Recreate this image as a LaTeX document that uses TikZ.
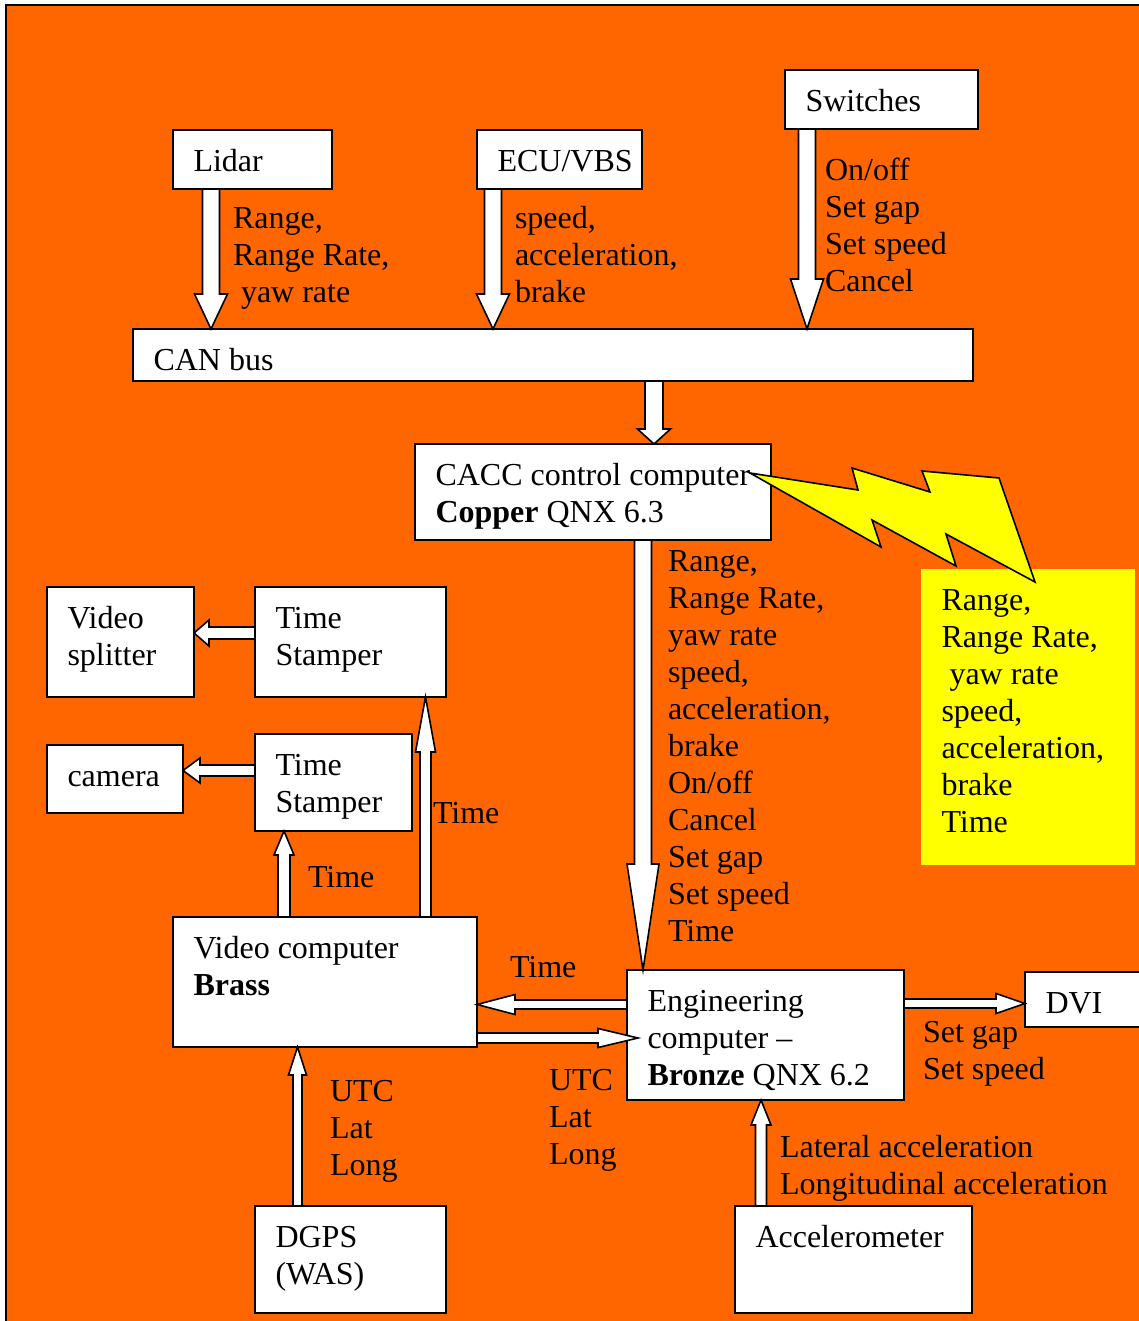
\documentclass[tikz,border=0pt]{standalone}
\usepackage{fontspec}
\setmainfont{Liberation Serif}
\usetikzlibrary{calc,fit}
\definecolor{bgorange}{HTML}{FF6600}
\definecolor{boltyellow}{HTML}{FFFF00}
\newcommand\txtlines[1]{\begin{tabular}[t]{@{}l@{}}#1\end{tabular}}
\newcommand\blockarrow[5]{%
  \path (#1) coordinate (ba-s) (#2) coordinate (ba-e) ($(ba-e)!#5!(ba-s)$) coordinate (ba-h);
  \draw[arrowbody] ($(ba-s)!#3!90:(ba-e)$) -- ($(ba-h)!#3!90:(ba-e)$) -- ($(ba-h)!#4!90:(ba-e)$) -- (ba-e) -- ($(ba-h)!#4!-90:(ba-e)$) -- ($(ba-h)!#3!-90:(ba-e)$) -- ($(ba-s)!#3!-90:(ba-e)$) -- cycle;}
\newcommand\boxtext[2]{\node[txt] (#1-t) at ([shift={(20.5,41.5)}]#1.north west) {\txtlines{#2}};}
\begin{document}
\begin{tikzpicture}[x=1pt,y=-1pt,
  every node/.style={font=\fontsize{32}{37}\selectfont, inner sep=0pt, outer sep=0pt},
  box/.style={draw=black, fill=white, line width=2pt, rectangle},
  txt/.style={anchor=base west, text=black},
  arrowbody/.style={draw=black, fill=white, line width=1.6pt, line join=miter},
  bolt/.style={draw=black, fill=boltyellow, line width=1.6pt, line join=miter}]
\useasboundingbox (0,0) rectangle (1139,1321);
\clip (0,0) rectangle (1139,1321);
\fill[white] (0,0) rectangle (1139,1321);
\fill[bgorange] (6,5) rectangle (1150,1330);
\draw[line width=2pt] (6,1330) -- (6,5) -- (1150,5);

% boxes
\node[box, fit={(173,130)(332,189)}] (lidar) {};
\node[box, fit={(477,130)(642,189)}] (ecu) {};
\node[box, fit={(785,70)(978,129)}] (switches) {};
\node[box, fit={(133,329)(973,381)}] (can) {};
\node[box, fit={(415,444)(771,540)}] (cacc) {};
\node[box, fit={(47,587)(194,697)}] (vsplit) {};
\node[box, fit={(255,587)(446,697)}] (ts1) {};
\node[box, fit={(47,745)(183,813)}] (camera) {};
\node[box, fit={(255,734)(412,831)}] (ts2) {};
\node[box, fit={(173,917)(477,1047)}] (vcomp) {};
\node[box, fit={(627,970)(904,1100)}] (eng) {};
\node[box, fit={(1025,972)(1170,1027)}] (dvi) {};
\node[box, fit={(255,1206)(446,1313)}] (dgps) {};
\node[box, fit={(735,1206)(972,1313)}] (accel) {};
\node[fill=boltyellow, draw=none, fit={(921,569)(1135,865)}] (ybox) {};

% box texts
\boxtext{lidar}{Lidar}
\boxtext{ecu}{ECU/VBS}
\boxtext{switches}{Switches}
\boxtext{can}{CAN bus}
\boxtext{cacc}{CACC control computer\\\textbf{Copper} QNX 6.3}
\boxtext{vsplit}{Video\\splitter}
\boxtext{ts1}{Time\\Stamper}
\boxtext{camera}{camera}
\boxtext{ts2}{Time\\Stamper}
\boxtext{vcomp}{Video computer\\\textbf{Brass}}
\boxtext{eng}{Engineering\\computer –\\\textbf{Bronze} QNX 6.2}
\boxtext{dvi}{DVI}
\boxtext{dgps}{DGPS\\(WAS)}
\boxtext{accel}{Accelerometer}
\boxtext{ybox}{Range,\\Range Rate,\\\ yaw rate\\speed,\\acceleration,\\brake\\Time}

% connector labels
\node[txt] (l-lidar) at (233,229) {\txtlines{Range,\\Range Rate,\\\ yaw rate}};
\node[txt] (l-ecu) at (515,229) {\txtlines{speed,\\acceleration,\\brake}};
\node[txt] (l-sw) at (825,181) {\txtlines{On/off\\Set gap\\Set speed\\Cancel}};
\node[txt] (l-cacc) at (668,571) {\txtlines{Range,\\Range Rate,\\yaw rate\\speed,\\acceleration,\\brake\\On/off\\Cancel\\Set gap\\Set speed\\Time}};
\node[txt] (l-time1) at (433,823) {Time};
\node[txt] (l-time2) at (308,887) {Time};
\node[txt] (l-time3) at (510,977) {Time};
\node[txt] (l-utc1) at (549,1090) {\txtlines{UTC\\Lat\\Long}};
\node[txt] (l-utc2) at (330,1101) {\txtlines{UTC\\Lat\\Long}};
\node[txt] (l-dvi) at (923,1042) {\txtlines{Set gap\\Set speed}};
\node[txt] (l-acc) at (780,1157) {\txtlines{Lateral acceleration\\Longitudinal acceleration}};

% block arrows
\blockarrow{211,0 |- lidar.south}{211,0 |- can.north}{8.5pt}{16.5pt}{35pt}
\blockarrow{493,0 |- ecu.south}{493,0 |- can.north}{8.5pt}{16.5pt}{35pt}
\blockarrow{807,0 |- switches.south}{807,0 |- can.north}{8.5pt}{16.5pt}{50pt}
\blockarrow{654,0 |- can.south}{654,0 |- cacc.north}{9pt}{16.5pt}{15pt}
\blockarrow{643,0 |- cacc.south}{643,0 |- eng.north}{8.5pt}{16pt}{106pt}
\blockarrow{ts1.west |- 0,633}{vsplit.east |- 0,633}{6pt}{13pt}{15pt}
\blockarrow{ts2.west |- 0,770.5}{camera.east |- 0,770.5}{5.5pt}{12.5pt}{17pt}
\blockarrow{425.5,0 |- vcomp.north}{425.5,0 |- ts1.south}{5.5pt}{10pt}{55pt}
\blockarrow{284,0 |- vcomp.north}{284,0 |- ts2.south}{6pt}{10pt}{24pt}
\blockarrow{eng.west |- 0,1004.5}{vcomp.east |- 0,1004.5}{4.5pt}{10pt}{38pt}
\coordinate (engin) at ($(eng.west |- 0,1038)+(11,0)$);
\blockarrow{vcomp.east |- 0,1038}{engin}{5pt}{9.5pt}{40pt}
\blockarrow{eng.east |- 0,1003.5}{dvi.west |- 0,1003.5}{4.5pt}{10pt}{29pt}
\blockarrow{297.5,0 |- dgps.north}{297.5,0 |- vcomp.south}{4.5pt}{9pt}{28pt}
\blockarrow{761,0 |- accel.north}{761,0 |- eng.south}{5.5pt}{10pt}{25pt}

% wireless link
\draw[bolt] (750,473) -- (858,490) -- (852,468) -- (930,492) -- (922,471) -- (999,478) -- (1035,582) -- (946,534) -- (956,566) -- (872,520) -- (881,547) -- cycle;
\end{tikzpicture}
\end{document}
